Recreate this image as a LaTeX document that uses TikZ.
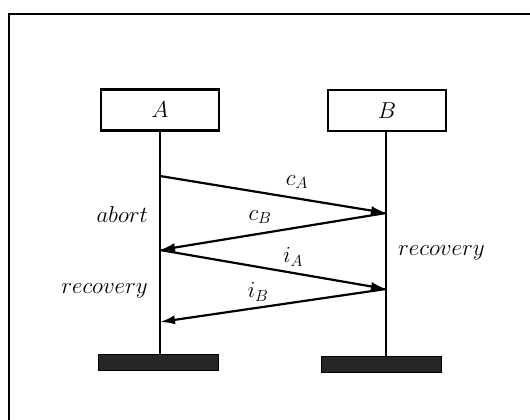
\RequirePackage{fix-cm}
\documentclass[tikz,border=0pt]{standalone}
\usetikzlibrary{arrows.meta}
\begin{document}
\begin{tikzpicture}[x=1pt,y=-1pt,
  lbl/.style={font=\fontsize{23}{27}\selectfont, inner sep=0pt},
  procbox/.style={draw, line width=2.2pt, minimum width=118pt, minimum height=41pt, inner sep=0pt, font=\fontsize{23}{27}\selectfont},
  endbar/.style={fill=black!85, draw=black, line width=1pt, minimum width=120pt, minimum height=16pt, inner sep=0pt},
  life/.style={line width=2.2pt},
  msg/.style={line width=2.2pt, -{Latex[length=15pt,width=9pt]}},
  frame/.style={line width=2.4pt}]
\useasboundingbox (0,0) rectangle (530,420);
% frame (top and left edges)
\coordinate (f1) at (530,14);
\coordinate (f2) at (9,14);
\coordinate (f3) at (9,420);
\draw[frame] (f1) -- (f2) -- (f3);
% processes
\node[procbox] (A) at (160,110) {$A$};
\node[procbox] (B) at (387,110.5) {$B$};
\node[endbar] (Aend) at (158,362.5) {};
\node[endbar] (Bend) at (381,364) {};
\draw[life] (A.south) -- (A.south |- Aend.north);
\draw[life] (B.south -| 386,0) -- (386,356);
% message points
\coordinate (a1) at (160,176);
\coordinate (b1) at (386,213);
\coordinate (a2) at (160,250);
\coordinate (b2) at (386,289);
\coordinate (a3) at (160,322);
\draw[msg] (a1) -- (b1);
\draw[msg] (b1) -- (a2);
\draw[msg] (a2) -- (b2);
\draw[msg] (b2) -- (a3);
% labels
\node[lbl] (lcA) at (297,182) {$c_A$};
\node[lbl] (lcB) at (260,217) {$c_B$};
\node[lbl] (liA) at (293,257) {$i_A$};
\node[lbl] (liB) at (258,292) {$i_B$};
\node[lbl, anchor=east] (labort) at (148,215) {$abort$};
\node[lbl, anchor=east] (lrecA) at (148,291) {$recovery$};
\node[lbl, anchor=west] (lrecB) at (398,253) {$recovery$};
\end{tikzpicture}
\end{document}
